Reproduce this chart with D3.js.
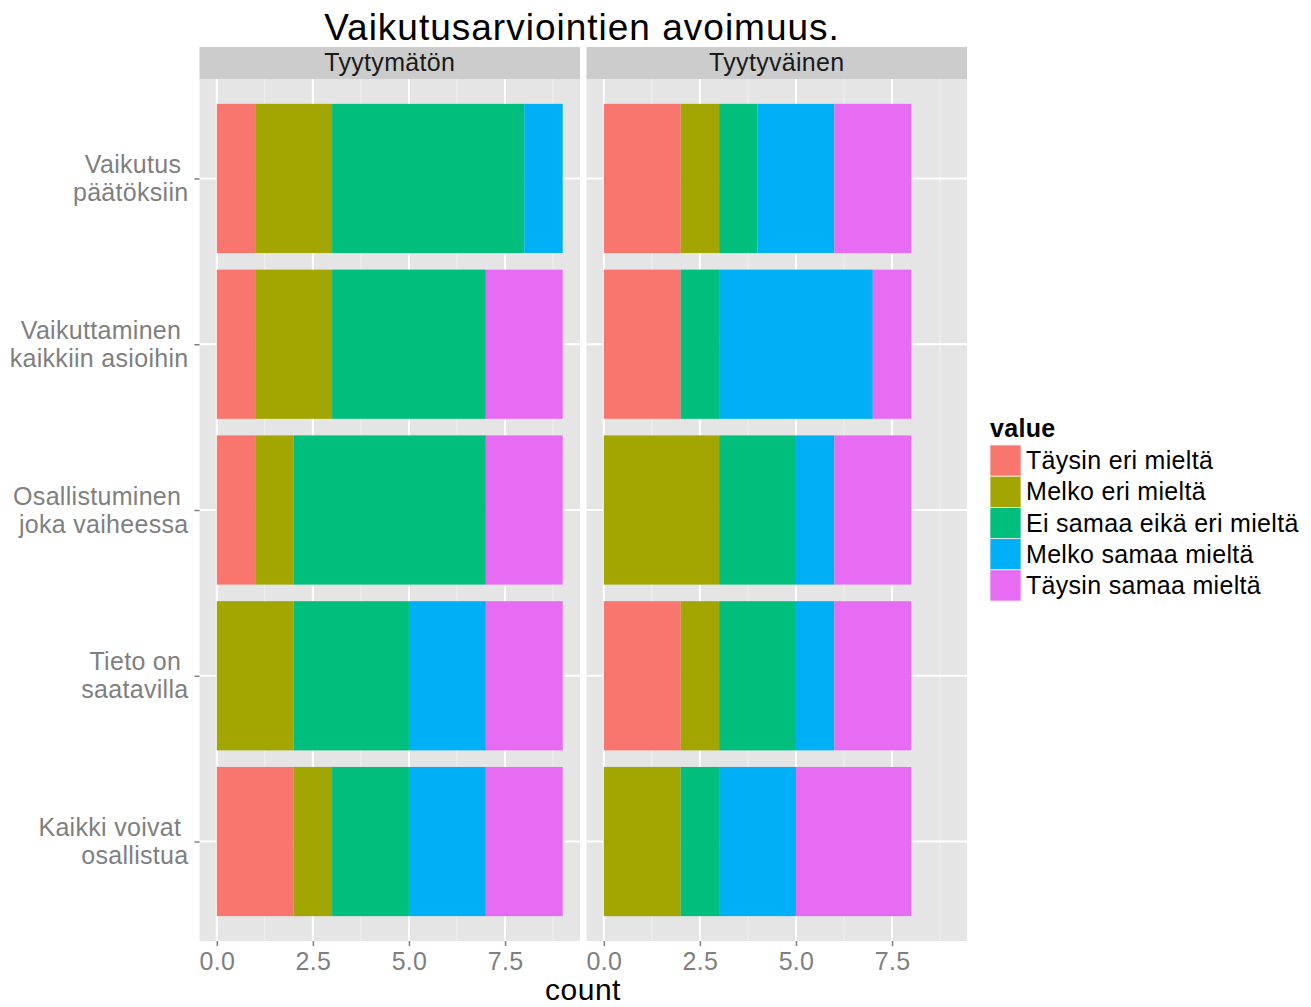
<!DOCTYPE html>
<html>
<head>
<meta charset="utf-8">
<script src="https://cdn.jsdelivr.net/npm/d3@7"></script>
<style>
  html, body { margin: 0; padding: 0; background: #fff; }
  svg { display: block; font-family: "Liberation Sans", Arial, Helvetica, sans-serif; }
  .pre { white-space: pre; }
</style>
</head>
<body>
<svg id="chart" width="1311" height="1007"></svg>
<script>
// ---- Data ----
const title = "Vaikutusarviointien avoimuus.";
const facets = ["Tyytymätön", "Tyytyväinen"];
const categories = [
  ["Vaikutus ", "päätöksiin"],
  ["Vaikuttaminen ", "kaikkiin asioihin"],
  ["Osallistuminen ", "joka vaiheessa"],
  ["Tieto on ", "saatavilla"],
  ["Kaikki voivat ", "osallistua"]
];
const levels = ["Täysin eri mieltä", "Melko eri mieltä", "Ei samaa eikä eri mieltä", "Melko samaa mieltä", "Täysin samaa mieltä"];
const colors = ["#F8766D", "#A3A500", "#00BF7D", "#00B0F6", "#E76BF3"];
// counts per category (rows) per level (columns)
const tyytymaton = [
  [1, 2, 5, 1, 0],
  [1, 2, 4, 0, 2],
  [1, 1, 5, 0, 2],
  [0, 2, 3, 2, 2],
  [2, 1, 2, 2, 2]
];
const tyytyvainen = [
  [2, 1, 1, 2, 2],
  [2, 0, 1, 4, 1],
  [0, 3, 2, 1, 2],
  [2, 1, 2, 1, 2],
  [0, 2, 1, 2, 3]
];
const xTicks = [0, 2.5, 5, 7.5];
const xMinor = [1.25, 3.75, 6.25, 8.75];
const xTitle = "count";
const legendTitle = "value";

// ---- Layout ----
const svg = d3.select("#chart");
const panelTop = 79, panelBottom = 941;
const stripTop = 47;
const panelsX = [[199.5, 580], [586.5, 967]];
const data = [tyytymaton, tyytyvainen];
const fs = 25, ls = "0.3px";

const catKeys = categories.map(c => c.join(""));
const y = d3.scalePoint().domain(catKeys).range([panelTop, panelBottom]).padding(0.6);
const barH = y.step() * 0.9;

// title
svg.append("text").attr("x", 582).attr("y", 40).attr("text-anchor", "middle")
  .attr("font-size", 37).attr("letter-spacing", "1px").attr("fill", "#000").text(title);

facets.forEach((f, fi) => {
  const [x0, x1] = panelsX[fi];
  const x = d3.scaleLinear().domain([-0.45, 9.45]).range([x0, x1]);
  const g = svg.append("g");
  // strip
  g.append("rect").attr("x", x0).attr("y", stripTop).attr("width", x1 - x0).attr("height", panelTop - stripTop).attr("fill", "#CCCCCC");
  g.append("text").attr("x", (x0 + x1) / 2).attr("y", 71).attr("text-anchor", "middle")
    .attr("font-size", fs).attr("letter-spacing", ls).attr("fill", "#1A1A1A").text(f);
  // panel bg
  g.append("rect").attr("x", x0).attr("y", panelTop).attr("width", x1 - x0).attr("height", panelBottom - panelTop).attr("fill", "#E5E5E5");
  // minor gridlines
  g.selectAll(".minor").data(xMinor).enter().append("line")
    .attr("x1", d => x(d)).attr("x2", d => x(d)).attr("y1", panelTop).attr("y2", panelBottom)
    .attr("stroke", "#F2F2F2").attr("stroke-width", 1);
  // major gridlines
  g.selectAll(".major").data(xTicks).enter().append("line")
    .attr("x1", d => x(d)).attr("x2", d => x(d)).attr("y1", panelTop).attr("y2", panelBottom)
    .attr("stroke", "#FFFFFF").attr("stroke-width", 2);
  g.selectAll(".hmajor").data(catKeys).enter().append("line")
    .attr("x1", x0).attr("x2", x1).attr("y1", d => y(d)).attr("y2", d => y(d))
    .attr("stroke", "#FFFFFF").attr("stroke-width", 2);
  // bars
  data[fi].forEach((row, ri) => {
    let cum = 0;
    row.forEach((v, li) => {
      if (v > 0) {
        g.append("rect")
          .attr("x", x(cum)).attr("width", x(cum + v) - x(cum))
          .attr("y", y(catKeys[ri]) - barH / 2).attr("height", barH)
          .attr("fill", colors[li]);
      }
      cum += v;
    });
  });
  // x axis
  const ax = d3.axisBottom(x).tickValues(xTicks).tickFormat(d3.format(".1f")).tickSize(5).tickPadding(6);
  const axg = svg.append("g").attr("transform", `translate(0,${panelBottom})`).call(ax);
  axg.select(".domain").remove();
  axg.selectAll(".tick line").attr("stroke", "#7F7F7F").attr("stroke-width", 1.5);
  axg.selectAll(".tick text").attr("fill", "#7F7F7F").attr("font-size", fs).attr("letter-spacing", ls)
    .attr("font-family", "Liberation Sans, Arial, sans-serif");
});

// y axis (left panel)
const ay = d3.axisLeft(y).tickSize(5).tickFormat(() => "");
const ayg = svg.append("g").attr("transform", `translate(${panelsX[0][0]},0)`).call(ay);
ayg.select(".domain").remove();
ayg.selectAll(".tick line").attr("stroke", "#7F7F7F").attr("stroke-width", 1.5);
ayg.selectAll(".tick").each(function(d, i) {
  const t = d3.select(this).append("text").attr("class", "pre")
    .attr("x", -11).attr("text-anchor", "end").attr("fill", "#7F7F7F")
    .attr("font-size", fs).attr("letter-spacing", ls).attr("font-family", "Liberation Sans, Arial, sans-serif");
  categories[i].forEach((line, li) => {
    t.append("tspan").attr("x", -11).attr("y", li === 0 ? -6 : 22).text(line);
  });
});

// x title
svg.append("text").attr("x", 583).attr("y", 1000).attr("text-anchor", "middle")
  .attr("font-size", 30).attr("letter-spacing", "0.5px").attr("fill", "#000").text(xTitle);

// legend
const lg = svg.append("g").attr("transform", "translate(990,0)");
lg.append("text").attr("x", 0).attr("y", 437).attr("font-size", fs).attr("letter-spacing", ls)
  .attr("font-weight", "bold").text(legendTitle);
const keyH = 31.2;
levels.forEach((lv, i) => {
  lg.append("rect").attr("x", 0).attr("y", 445 + i * keyH).attr("width", 31).attr("height", keyH)
    .attr("fill", colors[i]).attr("stroke", "#F2F2F2").attr("stroke-width", 0.8);
  lg.append("text").attr("x", 36).attr("y", 445 + i * keyH + keyH / 2 + 8.5)
    .attr("font-size", fs).attr("letter-spacing", ls).attr("fill", "#000").text(lv);
});
</script>
</body>
</html>
